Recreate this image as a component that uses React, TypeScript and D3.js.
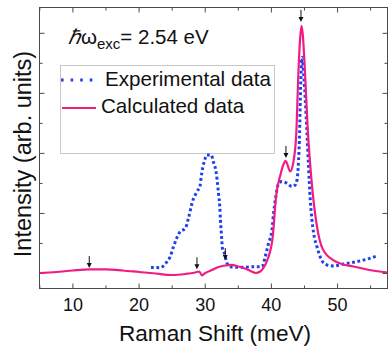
import React, { useEffect, useRef } from 'react';
import * as d3 from 'd3';

// calculated spectrum (meV, arb. units)
const calcX = [5, 7.5, 10, 12.5, 15, 17.5, 20, 22.5, 25, 27, 28.5, 29.1, 29.5, 30, 31, 32, 33, 34, 35, 36, 37, 37.6, 38.3, 38.8, 39.5, 40.2, 40.7, 41.4, 41.8, 42.15, 42.85, 43.3, 43.75, 44.1, 44.35, 44.55, 44.75, 45.0, 45.5, 46.1, 46.9, 47.75, 49.4, 50.9, 52.4, 54.45, 57.6];
const calcY = [0.008, 0.025, 0.05, 0.067, 0.067, 0.05, 0.025, 0.0, -0.025, -0.008, 0.017, 0.033, -0.03, 0.008, 0.058, 0.108, 0.133, 0.142, 0.117, 0.083, 0.033, 0.008, 0.033, 0.092, 0.258, 0.608, 1.275, 1.658, 1.808, 1.875, 1.7, 1.842, 2.308, 3.392, 3.925, 4.125, 3.975, 3.525, 2.392, 1.508, 0.775, 0.41, 0.217, 0.15, 0.117, 0.067, 0.017];

// experimental spectrum
const expX = [21.8, 23.2, 24.1, 24.7, 25.2, 26.2, 27.0, 27.5, 28.1, 28.75, 29.25, 29.35, 29.65, 29.85, 30.25, 30.9, 31.25, 31.5, 31.8, 32.0, 32.2, 32.3, 32.4, 32.5, 32.6, 32.9, 33.3, 33.8, 35.3, 37.8, 38.58, 39.07, 39.57, 40.09, 40.33, 40.59, 40.84, 41.08, 41.6, 42.35, 43.11, 43.61, 43.87, 44.11, 44.26, 44.37, 44.47, 44.62, 44.9, 45.12, 45.38, 45.62, 45.88, 46.13, 46.38, 46.89, 47.39, 47.89, 48.4, 49.4, 50.91, 52.42, 54.45, 55.96];
const expY = [0.1, 0.097, 0.18, 0.28, 0.447, 0.697, 0.753, 0.937, 1.208, 1.363, 1.475, 1.57, 1.78, 1.863, 1.975, 1.975, 1.853, 1.77, 1.558, 1.337, 1.113, 0.892, 0.725, 0.558, 0.42, 0.337, 0.17, 0.113, 0.103, 0.113, 0.113, 0.28, 0.503, 0.725, 1.003, 1.225, 1.392, 1.503, 1.53, 1.503, 1.447, 1.475, 1.558, 1.892, 2.342, 2.892, 3.308, 3.6, 3.3, 2.892, 2.342, 1.775, 1.225, 0.892, 0.675, 0.442, 0.275, 0.175, 0.142, 0.125, 0.158, 0.187, 0.238, 0.292];

// arrows marking modes
const arrowX = [12.47, 28.75, 33.03, 42.2, 44.47];
const arrowTip = [0.09, 0.07, 0.225, 1.925, 4.19];

const xTicks = [10, 20, 30, 40, 50];
const xMinor = [5, 15, 25, 35, 45, 55];
const yTicks = [0, 1, 2, 3, 4];
const yMinor = [-0.5, 0.5, 1.5, 2.5, 3.5];

const W = 388, H = 349;
const FONT = 'Liberation Sans, Arial, sans-serif';

const App: React.FC = () => {
  const svgRef = useRef<SVGSVGElement>(null);

  useEffect(() => {
    if (!svgRef.current) return;
    const svg = d3.select(svgRef.current);
    svg.selectAll('*').remove();

    const left = 39.5, right = 387.5, top = 7.5, bottom = 288.5;
    const x = d3.scaleLinear().domain([4.95, 57.55]).range([left, right]);
    const y = d3.scaleLinear().domain([-0.25, 4.43]).range([bottom, top]);

    const axisCol = '#4a4a4a';
    const g = svg.append('g');

    // ticks (inward on all four sides)
    const tick = (vals: number[], len: number) => {
      vals.forEach(v => {
        g.append('line').attr('x1', x(v)).attr('x2', x(v)).attr('y1', bottom).attr('y2', bottom - len).attr('stroke', axisCol);
        g.append('line').attr('x1', x(v)).attr('x2', x(v)).attr('y1', top).attr('y2', top + len).attr('stroke', axisCol);
      });
    };
    const ytick = (vals: number[], len: number) => {
      vals.filter(v => y(v) > top && y(v) < bottom).forEach(v => {
        g.append('line').attr('x1', left).attr('x2', left + len).attr('y1', y(v)).attr('y2', y(v)).attr('stroke', axisCol);
        g.append('line').attr('x1', right).attr('x2', right - len).attr('y1', y(v)).attr('y2', y(v)).attr('stroke', axisCol);
      });
    };
    tick(xTicks, 5);
    tick(xMinor, 3);
    ytick(yTicks, 5);
    ytick(yMinor, 3);

    g.selectAll('text.xt')
      .data(xTicks)
      .join('text')
      .attr('x', d => x(d))
      .attr('y', 311)
      .attr('text-anchor', 'middle')
      .attr('font-family', FONT)
      .attr('font-size', 18)
      .attr('fill', '#111')
      .text(d => d);

    // legend box
    g.append('rect').attr('x', 60.5).attr('y', 65.5).attr('width', 214).attr('height', 88)
      .attr('fill', '#fff').attr('stroke', '#c8c8c8');

    const clip = svg.append('clipPath').attr('id', 'plotclip');
    clip.append('rect').attr('x', left).attr('y', top).attr('width', right - left).attr('height', bottom - top);

    const lineGen = d3.line<[number, number]>()
      .x(d => x(d[0]))
      .y(d => y(d[1]))
      .curve(d3.curveMonotoneX);

    const expPts = expX.map((v, i) => [v, expY[i]] as [number, number]);
    const calcPts = calcX.map((v, i) => [v, calcY[i]] as [number, number]);

    g.append('path')
      .attr('d', lineGen(expPts))
      .attr('fill', 'none')
      .attr('stroke', '#2040ee')
      .attr('stroke-width', 3)
      .attr('stroke-dasharray', '2.8,2.6')
      .attr('clip-path', 'url(#plotclip)');

    g.append('path')
      .attr('d', lineGen(calcPts))
      .attr('fill', 'none')
      .attr('stroke', '#f01c84')
      .attr('stroke-width', 2.2)
      .attr('clip-path', 'url(#plotclip)');

    // arrows
    arrowX.forEach((v, i) => {
      const ax = x(v), ty = y(arrowTip[i]);
      g.append('line').attr('x1', ax).attr('x2', ax).attr('y1', ty - 12).attr('y2', ty - 4)
        .attr('stroke', '#111').attr('stroke-width', 1);
      g.append('path').attr('d', `M${ax - 2.5},${ty - 5}L${ax + 2.5},${ty - 5}L${ax},${ty}Z`).attr('fill', '#111');
    });

    // frame
    g.append('rect').attr('x', left).attr('y', top).attr('width', right - left).attr('height', bottom - top)
      .attr('fill', 'none').attr('stroke', axisCol).attr('stroke-width', 1);

    // legend entries
    g.append('line').attr('x1', 61).attr('x2', 97).attr('y1', 80).attr('y2', 80)
      .attr('stroke', '#2040ee').attr('stroke-width', 3).attr('stroke-dasharray', '2.6,7');
    g.append('text').attr('x', 105).attr('y', 86).attr('font-family', FONT).attr('font-size', 20.6).attr('fill', '#111')
      .text('Experimental data');
    g.append('line').attr('x1', 62).attr('x2', 96).attr('y1', 108).attr('y2', 108)
      .attr('stroke', '#f01c84').attr('stroke-width', 2.2);
    g.append('text').attr('x', 101).attr('y', 113).attr('font-family', FONT).attr('font-size', 20.6).attr('fill', '#111')
      .text('Calculated data');

    // excitation energy label
    const t = g.append('text').attr('x', 68).attr('y', 44).attr('font-family', FONT).attr('font-size', 20.5).attr('fill', '#111');
    t.append('tspan').attr('font-style', 'italic').text('ℏ');
    t.append('tspan').text('ω');
    t.append('tspan').attr('font-size', 15).attr('dy', 5).text('exc');
    t.append('tspan').attr('dy', -5).text('= 2.54 eV');

    // axis titles
    g.append('text').attr('x', 215).attr('y', 341).attr('text-anchor', 'middle')
      .attr('font-family', FONT).attr('font-size', 22.6).attr('fill', '#111').text('Raman Shift (meV)');
    g.append('text').attr('transform', `translate(31,${(top + bottom) / 2 + 6}) rotate(-90)`).attr('text-anchor', 'middle')
      .attr('font-family', FONT).attr('font-size', 23.5).attr('fill', '#111').text('Intensity (arb. units)');
  }, []);

  return (
    <svg ref={svgRef} width={W} height={H} style={{ position: 'absolute', left: 0, top: 0, background: '#fff' }} />
  );
};

export default App;
